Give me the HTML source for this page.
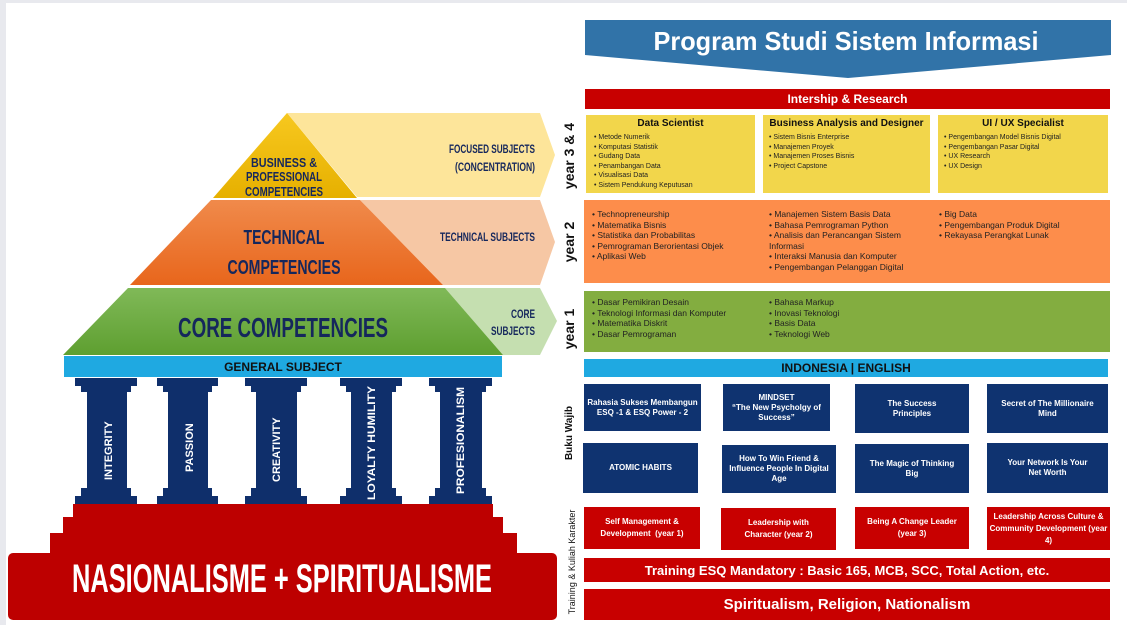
<!DOCTYPE html>
<html><head><meta charset="utf-8"><style>
*{margin:0;padding:0;box-sizing:border-box}
body{width:1127px;height:625px;background:#fff;position:relative;overflow:hidden;font-family:"Liberation Sans",sans-serif}
.a{position:absolute}
.bx{position:absolute;display:flex;align-items:center;justify-content:center;text-align:center;color:#fff;font-weight:bold}
.yl{background:#f2d64b;position:absolute}
.yl h4{font-size:10px;text-align:center;margin-top:3px;color:#111}
ul{list-style:none;font-size:7px;color:#222;line-height:9.5px}
ul li:before{content:"• ";}
.big ul{font-size:8.5px;line-height:10.5px}
.nav{background:#0f3370;font-size:8px;line-height:10px}
.rd{background:#c80000;font-size:8px;line-height:12px}
.vt{position:absolute;transform:rotate(-90deg);transform-origin:center;white-space:nowrap;font-weight:bold;color:#111}
</style></head><body>
<div class="a" style="left:0;top:0;width:1127px;height:3px;background:#e8e9ee"></div>
<div class="a" style="left:0;top:0;width:6px;height:625px;background:#e8e9ee"></div>

<svg class="a" style="left:0;top:0" width="1127" height="625">
<polygon points="585,20 1111,20 1111,55 848,78 585,55" fill="#3173a8"/>
<text x="846" y="50" font-size="26" font-weight="bold" fill="#fff" text-anchor="middle" font-family="Liberation Sans" textLength="385" lengthAdjust="spacingAndGlyphs">Program Studi Sistem Informasi</text>
<polygon points="287,113 540,113 555,155 540,197 357,197" fill="#fde59a"/>
<polygon points="360,200 540,200 555,242 540,285 443,285" fill="#f6c7a4"/>
<polygon points="445,288 540,288 557,321 540,355 503,355" fill="#c5dfb0"/>
<defs>
<linearGradient id="gy" x1="0" y1="0" x2="0" y2="1"><stop offset="0" stop-color="#f7c81f"/><stop offset="1" stop-color="#e6b000"/></linearGradient>
<linearGradient id="go" x1="0" y1="0" x2="0" y2="1"><stop offset="0" stop-color="#f08a4b"/><stop offset="1" stop-color="#e8661c"/></linearGradient>
<linearGradient id="gg" x1="0" y1="0" x2="0" y2="1"><stop offset="0" stop-color="#80b958"/><stop offset="1" stop-color="#5e9f30"/></linearGradient>
</defs>
<polygon points="287,113 357,198 213,198" fill="url(#gy)"/>
<polygon points="211,200 360,200 443,285 130,285" fill="url(#go)"/>
<polygon points="128,288 445,288 503,355 63,355" fill="url(#gg)"/>
<g font-family="Liberation Sans" font-weight="bold" fill="#15275c" text-anchor="middle" lengthAdjust="spacingAndGlyphs">
<text x="284" y="167" font-size="13" textLength="66" lengthAdjust="spacingAndGlyphs">BUSINESS &amp;</text>
<text x="284" y="181" font-size="13" textLength="76" lengthAdjust="spacingAndGlyphs">PROFESSIONAL</text>
<text x="284" y="196" font-size="13" textLength="78" lengthAdjust="spacingAndGlyphs">COMPETENCIES</text>
<text x="284" y="244" font-size="20" textLength="81" lengthAdjust="spacingAndGlyphs">TECHNICAL</text>
<text x="284" y="274" font-size="20" textLength="113" lengthAdjust="spacingAndGlyphs">COMPETENCIES</text>
<text x="283" y="337" font-size="28" textLength="210" lengthAdjust="spacingAndGlyphs">CORE COMPETENCIES</text>
</g>
<g font-family="Liberation Sans" font-weight="bold" fill="#15275c" text-anchor="end" font-size="12">
<text x="535" y="153" textLength="86" lengthAdjust="spacingAndGlyphs">FOCUSED SUBJECTS</text>
<text x="535" y="171" textLength="80" lengthAdjust="spacingAndGlyphs">(CONCENTRATION)</text>
<text x="535" y="241" textLength="95" lengthAdjust="spacingAndGlyphs">TECHNICAL SUBJECTS</text>
<text x="535" y="318" textLength="24" lengthAdjust="spacingAndGlyphs">CORE</text>
<text x="535" y="335" textLength="44" lengthAdjust="spacingAndGlyphs">SUBJECTS</text>
</g>
<rect x="64" y="356" width="438" height="21" fill="#1fa9e1"/>
<text x="283" y="371" font-size="12" font-weight="bold" text-anchor="middle" fill="#111" font-family="Liberation Sans">GENERAL SUBJECT</text>
<g fill="#0f2f6b">
<polygon points="75,378 137,378 137,386 131,386 131,392 127,392 127,488 131,488 131,496 137,496 137,505 75,505 75,496 81,496 81,488 87,488 87,392 81,392 81,386 75,386"/>
<polygon points="157,378 218,378 218,386 212,386 212,392 208,392 208,488 212,488 212,496 218,496 218,505 157,505 157,496 163,496 163,488 168,488 168,392 163,392 163,386 157,386"/>
<polygon points="245,378 307,378 307,386 301,386 301,392 297,392 297,488 301,488 301,496 307,496 307,505 245,505 245,496 251,496 251,488 256,488 256,392 251,392 251,386 245,386"/>
<polygon points="340,378 402,378 402,386 396,386 396,392 392,392 392,488 396,488 396,496 402,496 402,505 340,505 340,496 346,496 346,488 351,488 351,392 346,392 346,386 340,386"/>
<polygon points="429,378 492,378 492,386 486,386 486,392 482,392 482,488 486,488 486,496 492,496 492,505 429,505 429,496 435,496 435,488 440,488 440,392 435,392 435,386 429,386"/>
</g>
<g fill="#fff" font-size="11" font-weight="bold" font-family="Liberation Sans">
<text transform="translate(112,480) rotate(-90)">INTEGRITY</text>
<text transform="translate(193,472) rotate(-90)">PASSION</text>
<text transform="translate(280,482) rotate(-90)">CREATIVITY</text>
<text transform="translate(375,500) rotate(-90)" textLength="114" lengthAdjust="spacingAndGlyphs">LOYALTY HUMILITY</text>
<text transform="translate(464,494) rotate(-90)" textLength="107" lengthAdjust="spacingAndGlyphs">PROFESIONALISM</text>
</g>
<g fill="#bd0000">
<rect x="73" y="504" width="420" height="14"/>
<rect x="63" y="517" width="440" height="17"/>
<rect x="50" y="533" width="467" height="22"/>
<rect x="8" y="553" width="549" height="67" rx="5"/>
</g>
<text x="282" y="592" font-size="40" font-weight="bold" fill="#fff" text-anchor="middle" font-family="Liberation Sans" textLength="420" lengthAdjust="spacingAndGlyphs">NASIONALISME + SPIRITUALISME</text>
</svg>

<div class="bx" style="left:585px;top:89px;width:525px;height:20px;background:#c80000;font-size:12px">Intership &amp; Research</div>
<div class="vt" style="left:530px;top:147px;width:80px;height:18px;font-size:14px;text-align:center">year 3 &amp; 4</div>
<div class="yl" style="left:586px;top:115px;width:169px;height:78px"><h4>Data Scientist</h4><ul style="margin:4px 0 0 8px"><li>Metode Numerik</li><li>Komputasi Statistik</li><li>Gudang Data</li><li>Penambangan Data</li><li>Visualisasi Data</li><li>Sistem Pendukung Keputusan</li></ul></div>
<div class="yl" style="left:763px;top:115px;width:167px;height:78px"><h4>Business Analysis and Designer</h4><ul style="margin:4px 0 0 6px"><li>Sistem Bisnis Enterprise</li><li>Manajemen Proyek</li><li>Manajemen Proses Bisnis</li><li>Project Capstone</li></ul></div>
<div class="yl" style="left:938px;top:115px;width:170px;height:78px"><h4>UI / UX Specialist</h4><ul style="margin:4px 0 0 6px"><li>Pengembangan Model Bisnis Digital</li><li>Pengembangan Pasar Digital</li><li>UX Research</li><li>UX Design</li></ul></div>

<div class="vt" style="left:540px;top:233px;width:60px;height:18px;font-size:14px;text-align:center">year 2</div>
<div class="a big" style="left:584px;top:200px;width:526px;height:83px;background:#fd8d4b">
<ul class="a" style="left:8px;top:9px"><li>Technopreneurship</li><li>Matematika Bisnis</li><li>Statistika dan Probabilitas</li><li>Pemrograman Berorientasi Objek</li><li>Aplikasi Web</li></ul>
<ul class="a" style="left:185px;top:9px;width:140px"><li>Manajemen Sistem Basis Data</li><li>Bahasa Pemrograman Python</li><li>Analisis dan Perancangan Sistem Informasi</li><li>Interaksi Manusia dan Komputer</li><li>Pengembangan Pelanggan Digital</li></ul>
<ul class="a" style="left:355px;top:9px"><li>Big Data</li><li>Pengembangan Produk Digital</li><li>Rekayasa Perangkat Lunak</li></ul>
</div>

<div class="vt" style="left:540px;top:320px;width:60px;height:18px;font-size:14px;text-align:center">year 1</div>
<div class="a big" style="left:584px;top:291px;width:526px;height:61px;background:#83ad40">
<ul class="a" style="left:8px;top:6px"><li>Dasar Pemikiran Desain</li><li>Teknologi Informasi dan Komputer</li><li>Matematika Diskrit</li><li>Dasar Pemrograman</li></ul>
<ul class="a" style="left:185px;top:6px"><li>Bahasa Markup</li><li>Inovasi Teknologi</li><li>Basis Data</li><li>Teknologi Web</li></ul>
</div>

<div class="bx" style="left:584px;top:359px;width:524px;height:18px;background:#1fa9e1;color:#111;font-size:12px">INDONESIA | ENGLISH</div>
<div class="vt" style="left:536px;top:426px;width:70px;height:14px;font-size:10px;text-align:center">Buku Wajib</div>
<div class="vt" style="left:513px;top:556px;width:120px;height:12px;font-size:9px;text-align:center;font-weight:normal">Training &amp; Kuliah Karakter</div>

<div class="bx nav" style="left:584px;top:384px;width:117px;height:47px">Rahasia Sukses Membangun ESQ -1 &amp; ESQ Power - 2</div>
<div class="bx nav" style="left:723px;top:384px;width:107px;height:47px">MINDSET<br>“The New Psycholgy of Success”</div>
<div class="bx nav" style="left:855px;top:384px;width:114px;height:49px">The Success<br>Principles</div>
<div class="bx nav" style="left:987px;top:384px;width:121px;height:49px">Secret of The Millionaire<br>Mind</div>
<div class="bx nav" style="left:583px;top:443px;width:115px;height:50px">ATOMIC HABITS</div>
<div class="bx nav" style="left:722px;top:445px;width:114px;height:48px">How To Win Friend &amp; Influence People In Digital Age</div>
<div class="bx nav" style="left:855px;top:444px;width:114px;height:49px">The Magic of Thinking<br>Big</div>
<div class="bx nav" style="left:987px;top:443px;width:121px;height:50px">Your Network Is Your<br>Net Worth</div>

<div class="bx rd" style="left:584px;top:507px;width:116px;height:42px">Self Management &amp;<br>Development&nbsp; (year 1)</div>
<div class="bx rd" style="left:721px;top:508px;width:115px;height:42px">Leadership with<br>Character (year 2)</div>
<div class="bx rd" style="left:855px;top:507px;width:114px;height:42px">Being A Change Leader<br>(year 3)</div>
<div class="bx rd" style="left:987px;top:507px;width:123px;height:43px">Leadership Across Culture &amp; Community Development (year 4)</div>
<div class="bx" style="left:584px;top:558px;width:526px;height:24px;background:#c80000;font-size:13px">Training ESQ Mandatory : Basic 165, MCB, SCC, Total Action, etc.</div>
<div class="bx" style="left:584px;top:589px;width:526px;height:31px;background:#c80000;font-size:15px">Spiritualism, Religion, Nationalism</div>
</body></html>
